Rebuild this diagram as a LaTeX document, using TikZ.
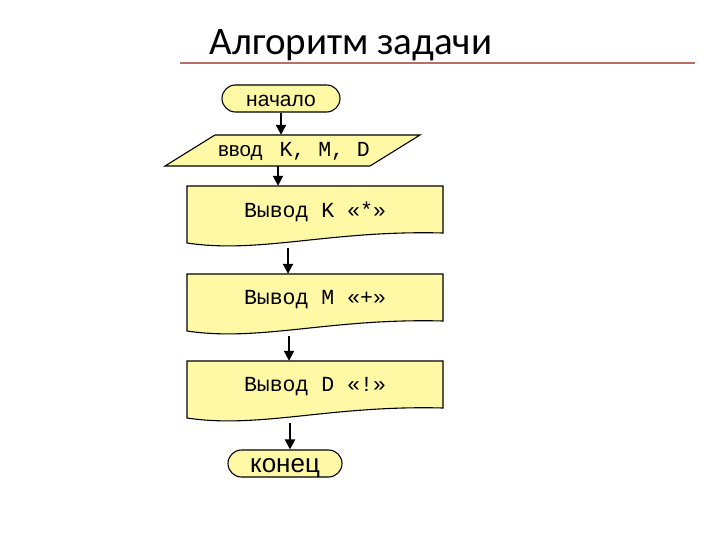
\documentclass[tikz,border=0pt]{standalone}
\usepackage{fontspec}
\setmainfont{Liberation Sans}
\newfontfamily\titlefont{Carlito}
\newfontfamily\monofont{Liberation Mono}
\usetikzlibrary{arrows.meta,calc}
\definecolor{fillY}{RGB}{255,249,166}
\definecolor{ruleR}{RGB}{185,110,105}
\newcommand\mydocshape[1]{%
  \draw[shp] (187,#1) -- (443,#1) -- (443,#1+47)
    .. controls (330,#1+44) and (260,#1+68) .. (187,#1+57) -- cycle;}
\tikzset{
  shp/.style={draw=black, fill=fillY, line width=1.1pt, line join=miter},
  term/.style={shp, rounded corners=13.5pt, inner sep=0pt, minimum height=27pt},
  boxlabel/.style={inner sep=0pt, minimum width=256pt, minimum height=52pt,
    font=\monofont\fontsize{21.5}{24}\selectfont},
  arr/.style={line width=2pt, -{Triangle[length=10pt,width=10pt]}},
}
\begin{document}
\begin{tikzpicture}[x=1pt,y=-1pt]
\useasboundingbox (0,0) rectangle (720,540);
% title
\draw[ruleR, line width=2.6pt] (180,63) -- (695,63);
\node[anchor=base, inner sep=0pt, font=\titlefont\fontsize{39}{43}\selectfont] (title) at (351,55) {Алгоритм задачи};
% start
\node[term, minimum width=118pt, text height=16pt, text depth=0pt, font=\fontsize{21}{24}\selectfont] (start) at (281,98.5) {начало};
% input parallelogram
\draw[shp] (215,135) -- (420,135) -- (370,166) -- (165,166) -- cycle;
\node[inner sep=0pt, minimum width=255pt, minimum height=31pt] (inp) at (292.5,150.5) {};
\node[inner sep=0pt] (inptext) at (294,151) {{\fontsize{20.5}{23}\selectfont ввод}\hspace{17pt}{\monofont\fontsize{21.5}{24}\selectfont K, M, D}};
% documents
\mydocshape{186}
\mydocshape{274}
\mydocshape{361}
\node[boxlabel] (b1) at (315,212) {Вывод K «*»};
\node[boxlabel] (b2) at (315,300) {Вывод M «+»};
\node[boxlabel] (b3) at (315,387) {Вывод D «!»};
% end
\node[term, minimum width=114pt, text height=17pt, text depth=0pt, font=\fontsize{26}{29}\selectfont] (end) at (285,463.5) {конец};
% connectors
\draw[arr] (start.south) -- (start.south |- inp.north);
\coordinate (c1) at ($(inp.south)+(-14.5,0)$);
\draw[arr] (c1) -- (c1 |- b1.north);
\coordinate (c2) at ($(b1.south)+(-27,10)$);
\draw[arr] (c2) -- (c2 |- b2.north);
\coordinate (c3) at ($(b2.south)+(-26,10)$);
\draw[arr] (c3) -- (c3 |- b3.north);
\coordinate (c4) at ($(b3.south)+(-25,10)$);
\draw[arr] (c4) -- (c4 |- end.north);
\end{tikzpicture}
\end{document}
